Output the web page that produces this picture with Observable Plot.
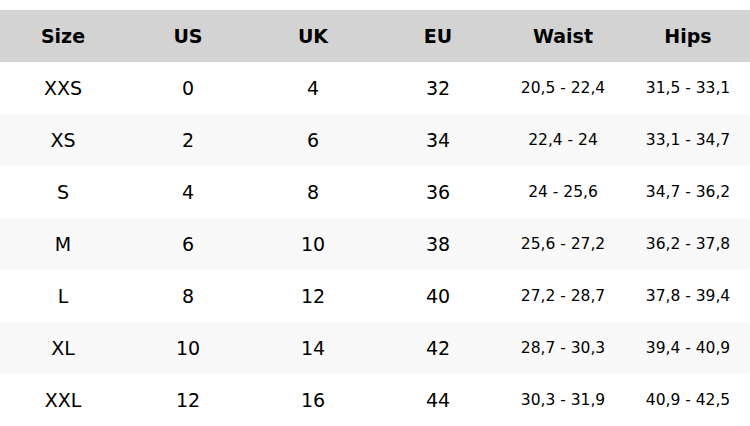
<!DOCTYPE html>
<html>
<head>
<meta charset="utf-8">
<script src="https://cdn.jsdelivr.net/npm/d3@7"></script>
<script src="https://cdn.jsdelivr.net/npm/@observablehq/plot@0.6"></script>
<style>
  html, body { margin: 0; padding: 0; background: #fff; }
</style>
</head>
<body>
<div id="chart"></div>
<script>
const columns = ["Size", "US", "UK", "EU", "Waist", "Hips"];
const sizes = ["XXS", "XS", "S", "M", "L", "XL", "XXL"];
const us = ["0", "2", "4", "6", "8", "10", "12"];
const uk = ["4", "6", "8", "10", "12", "14", "16"];
const eu = ["32", "34", "36", "38", "40", "42", "44"];
const waist = ["20,5 - 22,4", "22,4 - 24", "24 - 25,6", "25,6 - 27,2", "27,2 - 28,7", "28,7 - 30,3", "30,3 - 31,9"];
const hips = ["31,5 - 33,1", "33,1 - 34,7", "34,7 - 36,2", "36,2 - 37,8", "37,8 - 39,4", "39,4 - 40,9", "40,9 - 42,5"];

const rowKeys = ["header", ...sizes];
const colData = [sizes, us, uk, eu, waist, hips];

const headerCells = columns.map(c => ({col: c, row: "header", text: c}));
const bodyCells = [];
sizes.forEach((s, i) => {
  columns.forEach((c, j) => {
    bodyCells.push({col: c, row: s, text: colData[j][i], small: j >= 4, idx: i});
  });
});
const rowBg = rowKeys.map((r, i) => ({row: r, kind: i === 0 ? "h" : (i % 2 === 0 ? "alt" : "w")}));

const plot = Plot.plot({
  width: 750,
  height: 426,
  marginTop: 10,
  marginBottom: 0,
  marginLeft: 0,
  marginRight: 0,
  x: {type: "band", domain: columns, padding: 0, axis: null},
  y: {type: "band", domain: rowKeys, padding: 0, axis: null},
  style: {fontFamily: "DejaVu Sans", background: "#fff"},
  marks: [
    Plot.cell(rowBg, {y: "row", fill: d => d.kind === "h" ? "#d3d3d3" : d.kind === "alt" ? "#f9f9f9" : "#ffffff"}),
    Plot.text(headerCells, {x: "col", y: "row", text: "text", fontWeight: "bold", fontSize: 19, fill: "#000"}),
    Plot.text(bodyCells.filter(d => !d.small), {x: "col", y: "row", text: "text", fontSize: 19, fill: "#000"}),
    Plot.text(bodyCells.filter(d => d.small), {x: "col", y: "row", text: "text", fontSize: 15.5, fill: "#000"})
  ]
});
document.getElementById("chart").appendChild(plot);
</script>
</body>
</html>
